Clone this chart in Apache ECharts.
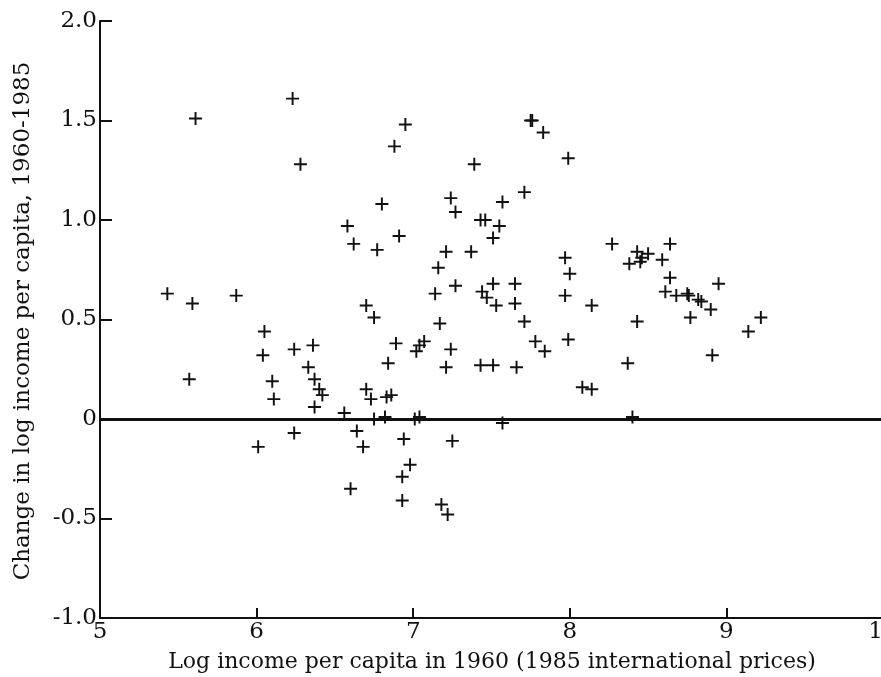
<!DOCTYPE html>
<html><head><meta charset="utf-8">
<script src="https://cdn.jsdelivr.net/npm/echarts@6/dist/echarts.min.js"></script>
<style>html,body{margin:0;padding:0;background:#fff}#c{width:881px;height:677px}</style>
</head><body><div id="c"></div>
<script>
const xTitle = "Log income per capita in 1960 (1985 international prices)";
const yTitle = "Change in log income per capita, 1960-1985";
const logIncome1960 = [5.43,5.61,5.59,5.57,5.87,6.05,6.04,6.10,6.11,6.01,6.23,6.28,6.24,6.24,6.36,6.33,6.37,6.40,6.42,6.37,6.56,6.64,6.68,6.60,6.70,6.73,6.75,6.82,6.83,6.86,6.84,6.89,6.94,6.98,6.93,6.93,7.01,7.04,7.02,7.04,7.07,7.18,7.22,7.25,7.21,7.24,7.43,7.51,7.66,7.57,7.78,7.84,7.99,8.08,8.14,8.37,8.91,8.40,6.95,6.88,7.39,7.75,7.76,7.83,7.99,6.80,6.58,6.62,6.77,6.91,7.24,7.27,7.43,7.46,7.57,7.71,7.55,7.51,7.21,7.37,7.16,7.97,8.00,7.27,7.14,7.51,7.65,7.44,7.47,7.53,7.65,7.97,8.14,6.70,6.75,7.17,7.71,8.27,8.64,8.43,8.50,8.45,8.38,8.59,8.64,8.61,8.68,8.75,8.76,8.82,8.84,8.90,8.95,8.77,8.43,9.22,9.14,8.46];
const changeLogIncome = [0.63,1.51,0.58,0.20,0.62,0.44,0.32,0.19,0.10,-0.14,1.61,1.28,0.35,-0.07,0.37,0.26,0.20,0.15,0.12,0.06,0.03,-0.06,-0.14,-0.35,0.15,0.10,0.00,0.01,0.11,0.12,0.28,0.38,-0.10,-0.23,-0.29,-0.41,0.00,0.01,0.34,0.37,0.39,-0.43,-0.48,-0.11,0.26,0.35,0.27,0.27,0.26,-0.02,0.39,0.34,0.40,0.16,0.15,0.28,0.32,0.01,1.48,1.37,1.28,1.50,1.50,1.44,1.31,1.08,0.97,0.88,0.85,0.92,1.11,1.04,1.00,1.00,1.09,1.14,0.97,0.91,0.84,0.84,0.76,0.81,0.73,0.67,0.63,0.68,0.68,0.64,0.61,0.57,0.58,0.62,0.57,0.57,0.51,0.48,0.49,0.88,0.88,0.84,0.83,0.79,0.78,0.80,0.71,0.64,0.62,0.63,0.62,0.60,0.59,0.55,0.68,0.51,0.49,0.51,0.44,0.81];
const xTicks = [5,6,7,8,9,10];
const yTicks = [-1.0,-0.5,0,0.5,1.0,1.5,2.0];

const pts = logIncome1960.map((x,i)=>[x, changeLogIncome[i]]);
const font = "'DejaVu Serif','Liberation Serif',serif";
const plus = 'path://M4.25,0H5.75V4.25H10V5.75H5.75V10H4.25V5.75H0V4.25H4.25Z';
const chart = echarts.init(document.getElementById('c'), null, {renderer:'canvas'});
chart.setOption({
  animation:false,
  backgroundColor:'#fff',
  grid:{left:100, top:21, right:-2, bottom:59, containLabel:false, outerBoundsMode:'none'},
  xAxis:{type:'value', min:xTicks[0], max:xTicks[xTicks.length-1], interval:1,
    axisLine:{onZero:false, lineStyle:{color:'#111', width:2}},
    axisTick:{inside:true, length:10, lineStyle:{color:'#111', width:2}},
    axisLabel:{color:'#111', fontFamily:font, fontSize:23, margin:3, formatter:v=>String(v)},
    splitLine:{show:false}},
  yAxis:{type:'value', min:yTicks[0], max:yTicks[yTicks.length-1], interval:0.5,
    axisLine:{onZero:false, lineStyle:{color:'#111', width:2}},
    axisTick:{inside:true, length:12, lineStyle:{color:'#111', width:2}},
    axisLabel:{color:'#111', fontFamily:font, fontSize:23, margin:3,
      formatter:v=> v===0 ? '0' : v.toFixed(1)},
    splitLine:{show:false}},
  series:[{type:'scatter', data:pts, symbol:plus, symbolSize:13,
    itemStyle:{color:'#111', opacity:1},
    markLine:{silent:true, symbol:'none', label:{show:false},
      lineStyle:{color:'#111', width:3, type:'solid'},
      data:[{yAxis:0}]}}],
  graphic:[
    {type:'text', x:492, y:662,
      style:{text:xTitle, font:"22px "+font, fill:'#111', textAlign:'center', textVerticalAlign:'middle'}},
    {type:'text', rotation:Math.PI/2, x:23, y:321,
      style:{text:yTitle, font:"23px "+font, fill:'#111', textAlign:'center', textVerticalAlign:'middle'}}
  ]
});
</script></body></html>
